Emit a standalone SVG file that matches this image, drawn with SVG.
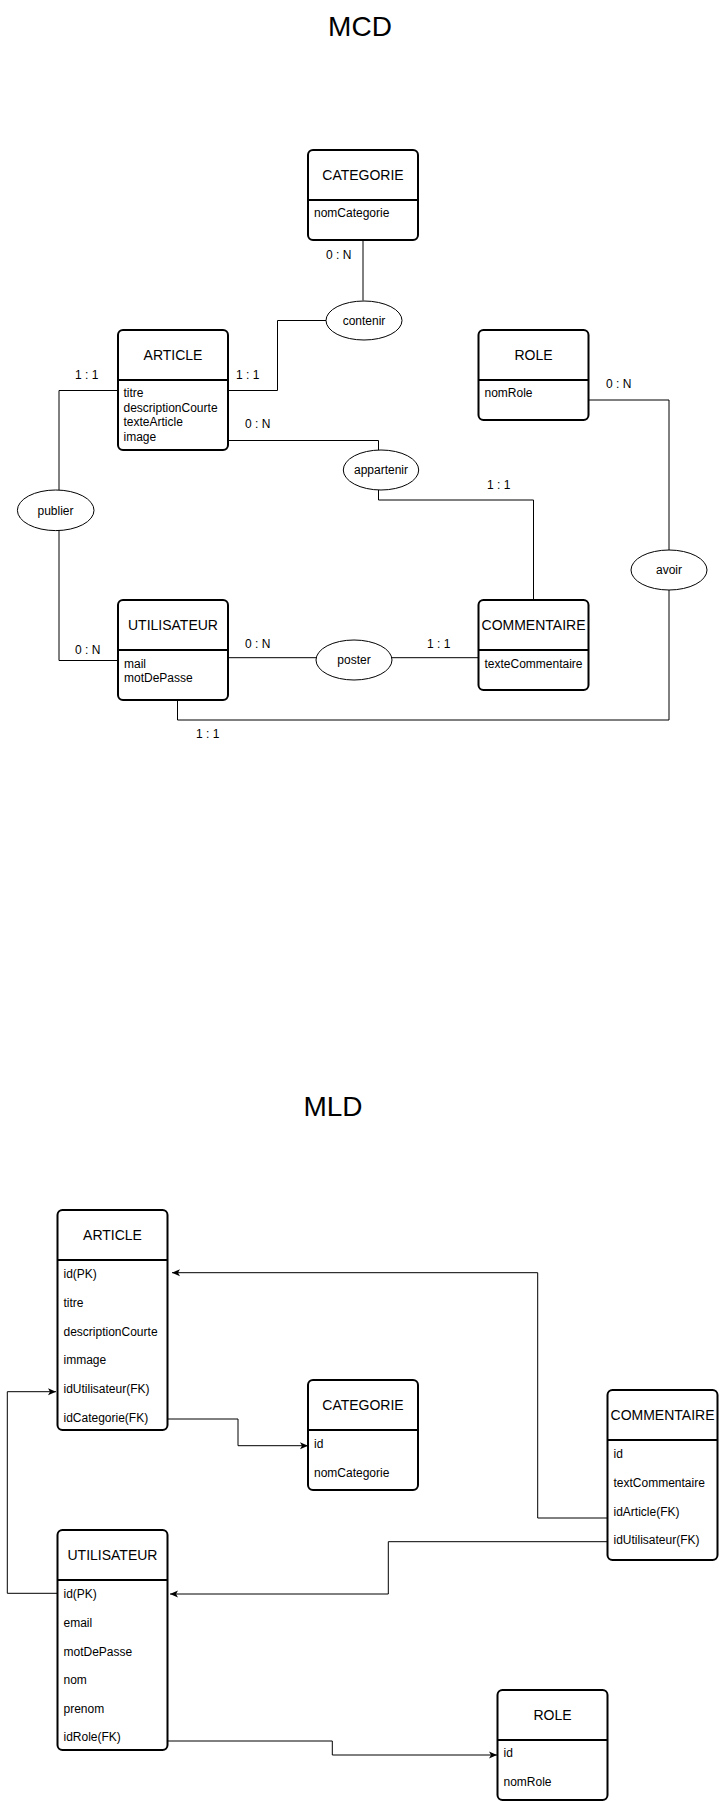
<svg xmlns="http://www.w3.org/2000/svg" width="719" height="1801" viewBox="0 0 719 1801">
<style>
text{font-family:"Liberation Sans",Arial,Helvetica,sans-serif;fill:#000}
.title{font-size:28px;text-anchor:middle}
.hd{font-size:14px;text-anchor:middle}
.at{font-size:12px}
.lb{font-size:12px}
.el{font-size:12px;text-anchor:middle}
.box{fill:#fff;stroke:#000;stroke-width:2}
.sep{stroke:#000;stroke-width:2}
.ell{fill:#fff;stroke:#000;stroke-width:1}
.cn{fill:none;stroke:#000;stroke-width:1}
.ar{fill:none;stroke:#000;stroke-width:1;marker-end:url(#arr)}
</style>
<defs>
<marker id="arr" viewBox="0 0 8 8" markerWidth="8" markerHeight="8" refX="8" refY="4" orient="auto" markerUnits="userSpaceOnUse">
<path d="M0,0.5 L8,4 L0,7.5 L2,4 Z" fill="#000"/>
</marker>
</defs>
<rect width="719" height="1801" fill="#fff"/>

<text class="title" x="360" y="36">MCD</text>
<text class="title" x="333" y="1116">MLD</text>

<g id="mcd-connectors">
<path class="cn" d="M363,240 V300.5"/>
<path class="cn" d="M326,320.5 H277.5 V390.5 H228"/>
<path class="cn" d="M118,390.5 H59 V490.2"/>
<path class="cn" d="M59,529.8 V660.5 H118"/>
<path class="cn" d="M228,657.7 H316.3"/>
<path class="cn" d="M391.8,657.7 H478.5"/>
<path class="cn" d="M228,440.5 H378.5 V450.1"/>
<path class="cn" d="M378.5,490 V500 H533.5 V600"/>
<path class="cn" d="M588.5,400 H669 V550"/>
<path class="cn" d="M669,590 V720 H177.5 V700"/>
</g>

<g id="mcd-labels">
<text class="lb" x="326" y="259">0 : N</text>
<text class="lb" x="75" y="379">1 : 1</text>
<text class="lb" x="236" y="379">1 : 1</text>
<text class="lb" x="245" y="428">0 : N</text>
<text class="lb" x="487" y="489">1 : 1</text>
<text class="lb" x="606" y="388">0 : N</text>
<text class="lb" x="75" y="654">0 : N</text>
<text class="lb" x="245" y="648">0 : N</text>
<text class="lb" x="427" y="648">1 : 1</text>
<text class="lb" x="196" y="738">1 : 1</text>
</g>

<g id="mcd-categorie">
<rect class="box" x="308" y="150" width="110" height="90" rx="5"/>
<line class="sep" x1="308" y1="200" x2="418" y2="200"/>
<text class="hd" x="363" y="180">CATEGORIE</text>
<text class="at" x="314" y="217">nomCategorie</text>
</g>

<g id="mcd-article">
<rect class="box" x="118" y="330" width="110" height="120" rx="5"/>
<line class="sep" x1="118" y1="380" x2="228" y2="380"/>
<text class="hd" x="173" y="360">ARTICLE</text>
<text class="at" x="123.5" y="397">titre</text>
<text class="at" x="123.5" y="411.5">descriptionCourte</text>
<text class="at" x="123.5" y="426">texteArticle</text>
<text class="at" x="123.5" y="440.5">image</text>
</g>

<g id="mcd-role">
<rect class="box" x="478.5" y="330" width="110" height="90" rx="5"/>
<line class="sep" x1="478.5" y1="380" x2="588.5" y2="380"/>
<text class="hd" x="533.5" y="360">ROLE</text>
<text class="at" x="484.5" y="397">nomRole</text>
</g>

<g id="mcd-utilisateur">
<rect class="box" x="118" y="600" width="110" height="100" rx="5"/>
<line class="sep" x1="118" y1="650" x2="228" y2="650"/>
<text class="hd" x="173" y="630">UTILISATEUR</text>
<text class="at" x="124" y="668">mail</text>
<text class="at" x="124" y="682.4">motDePasse</text>
</g>

<g id="mcd-commentaire">
<rect class="box" x="478.5" y="600" width="110" height="90" rx="5"/>
<line class="sep" x1="478.5" y1="650" x2="588.5" y2="650"/>
<text class="hd" x="533.5" y="630">COMMENTAIRE</text>
<text class="at" x="484.5" y="668">texteCommentaire</text>
</g>

<g id="mcd-contenir">
<ellipse class="ell" cx="364" cy="320.5" rx="38" ry="19.5"/>
<text class="el" x="364" y="324.5">contenir</text>
</g>
<g id="mcd-appartenir">
<ellipse class="ell" cx="381" cy="470" rx="37.7" ry="20"/>
<text class="el" x="381" y="474">appartenir</text>
</g>
<g id="mcd-publier">
<ellipse class="ell" cx="55.7" cy="510.3" rx="38.3" ry="20.3"/>
<text class="el" x="55.5" y="514.5">publier</text>
</g>
<g id="mcd-poster">
<ellipse class="ell" cx="354" cy="660" rx="38" ry="20"/>
<text class="el" x="354" y="664">poster</text>
</g>
<g id="mcd-avoir">
<ellipse class="ell" cx="669" cy="570" rx="38" ry="20"/>
<text class="el" x="669" y="574">avoir</text>
</g>

<g id="mld-connectors">
<path class="ar" d="M607.5,1518 H537.7 V1272.7 H172"/>
<path class="ar" d="M607.5,1541.7 H388.3 V1594 H170"/>
<path class="ar" d="M57.5,1593.3 H7.3 V1391.7 H56"/>
<path class="ar" d="M167.5,1419 H238 V1445.7 H308"/>
<path class="ar" d="M167.5,1741 H332.3 V1755 H497"/>
</g>

<g id="mld-article">
<rect class="box" x="57.5" y="1210" width="110" height="220" rx="5"/>
<line class="sep" x1="57.5" y1="1260" x2="167.5" y2="1260"/>
<text class="hd" x="112.5" y="1240">ARTICLE</text>
<text class="at" x="63.5" y="1278">id(PK)</text>
<text class="at" x="63.5" y="1306.75">titre</text>
<text class="at" x="63.5" y="1335.5">descriptionCourte</text>
<text class="at" x="63.5" y="1364.25">immage</text>
<text class="at" x="63.5" y="1393">idUtilisateur(FK)</text>
<text class="at" x="63.5" y="1421.75">idCategorie(FK)</text>
</g>

<g id="mld-categorie">
<rect class="box" x="308" y="1380" width="110" height="110" rx="5"/>
<line class="sep" x1="308" y1="1430" x2="418" y2="1430"/>
<text class="hd" x="363" y="1410">CATEGORIE</text>
<text class="at" x="314" y="1448">id</text>
<text class="at" x="314" y="1476.7">nomCategorie</text>
</g>

<g id="mld-commentaire">
<rect class="box" x="607.5" y="1390" width="110" height="170" rx="5"/>
<line class="sep" x1="607.5" y1="1440" x2="717.5" y2="1440"/>
<text class="hd" x="662.5" y="1420">COMMENTAIRE</text>
<text class="at" x="613.5" y="1458">id</text>
<text class="at" x="613.5" y="1486.7">textCommentaire</text>
<text class="at" x="613.5" y="1515.7">idArticle(FK)</text>
<text class="at" x="613.5" y="1544">idUtilisateur(FK)</text>
</g>

<g id="mld-utilisateur">
<rect class="box" x="57.5" y="1530" width="110" height="220" rx="5"/>
<line class="sep" x1="57.5" y1="1580" x2="167.5" y2="1580"/>
<text class="hd" x="112.5" y="1560">UTILISATEUR</text>
<text class="at" x="63.5" y="1598">id(PK)</text>
<text class="at" x="63.5" y="1626.7">email</text>
<text class="at" x="63.5" y="1655.7">motDePasse</text>
<text class="at" x="63.5" y="1684">nom</text>
<text class="at" x="63.5" y="1712.7">prenom</text>
<text class="at" x="63.5" y="1741.3">idRole(FK)</text>
</g>

<g id="mld-role">
<rect class="box" x="497.5" y="1690" width="110" height="110" rx="5"/>
<line class="sep" x1="497.5" y1="1740" x2="607.5" y2="1740"/>
<text class="hd" x="552.5" y="1720">ROLE</text>
<text class="at" x="503.5" y="1757.3">id</text>
<text class="at" x="503.5" y="1786.3">nomRole</text>
</g>
</svg>
